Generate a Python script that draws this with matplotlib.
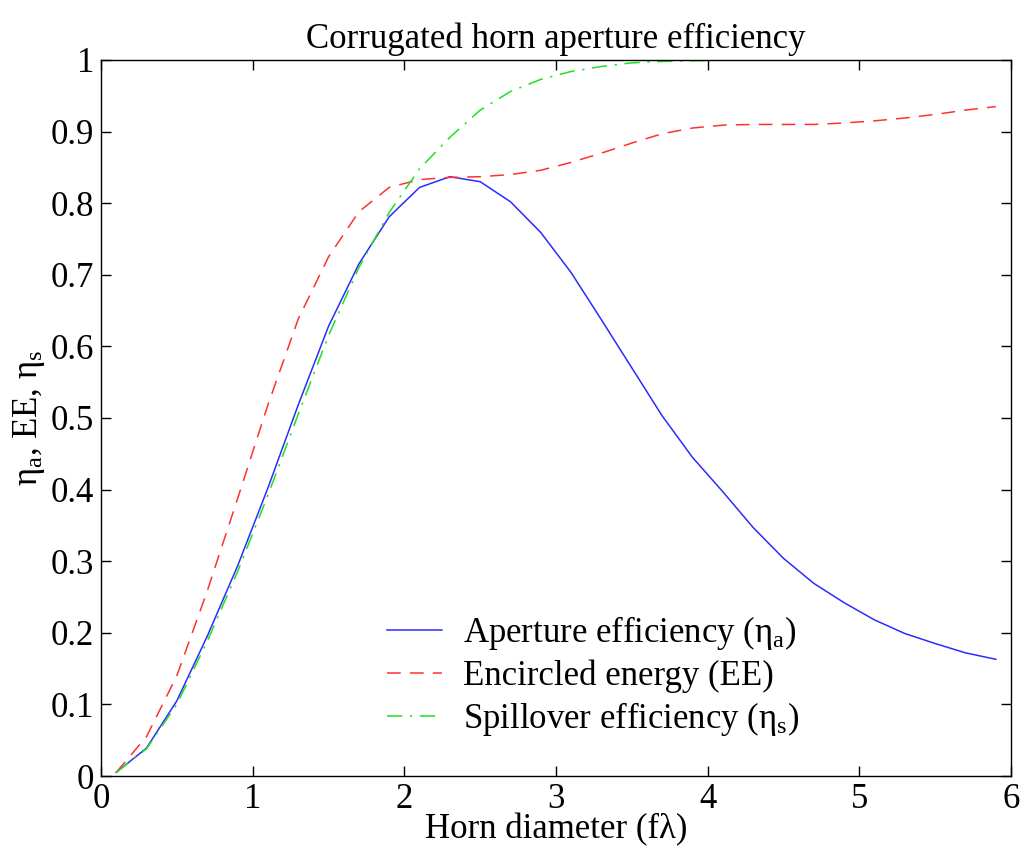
import numpy as np
import matplotlib
matplotlib.use('Agg')
import matplotlib.pyplot as plt

plt.rcParams['font.family'] = ['Liberation Serif', 'DejaVu Serif']
plt.rcParams['mathtext.fontset'] = 'custom'
plt.rcParams['mathtext.rm'] = 'Liberation Serif'
plt.rcParams['mathtext.it'] = 'Liberation Serif'

# horn diameter in units of f*lambda
diam = [0.1, 0.3, 0.5, 0.7, 0.9, 1.1, 1.3, 1.5, 1.7, 1.9,
        2.1, 2.3, 2.5, 2.7, 2.9, 3.1, 3.3, 3.5, 3.7, 3.9,
        4.1, 4.3, 4.5, 4.7, 4.9, 5.1, 5.3, 5.5, 5.7, 5.9]
aperture_eff = [0.005, 0.039, 0.105, 0.195, 0.293, 0.402, 0.518, 0.628, 0.715, 0.781,
                0.822, 0.837, 0.830, 0.802, 0.759, 0.703, 0.637, 0.570, 0.503, 0.445,
                0.397, 0.347, 0.304, 0.269, 0.242, 0.218, 0.199, 0.185, 0.172, 0.163]
encircled = [0.005, 0.055, 0.140, 0.258, 0.387, 0.518, 0.638, 0.725, 0.788, 0.822,
             0.833, 0.836, 0.837, 0.840, 0.846, 0.857, 0.870, 0.884, 0.897, 0.905,
             0.909, 0.910, 0.910, 0.910, 0.912, 0.915, 0.919, 0.924, 0.930, 0.935]
spillover = [0.005, 0.038, 0.100, 0.188, 0.285, 0.392, 0.505, 0.615, 0.710, 0.787,
             0.848, 0.892, 0.930, 0.956, 0.973, 0.984, 0.991, 0.996, 0.998, 0.999,
             1.0, 1.0, 1.0, 1.0, 1.0, 1.0, 1.0, 1.0, 1.0, 1.0]

fs = 25

fig = plt.figure(figsize=(10.34, 8.55), dpi=100)
ax = fig.add_axes([101/1034, 1 - 776/855, 910/1034, 716/855])

ax.plot(diam, aperture_eff, color='#2b2bff', lw=1.1, label=r'Aperture efficiency (η$_{\rm a}$)')
ax.plot(diam, encircled, color='#ff3030', lw=1.1, dashes=(9, 6), label='Encircled energy (EE)')
ax.plot(diam, spillover, color='#20e020', lw=1.1, dashes=(10, 5, 1.5, 5), label=r'Spillover efficiency (η$_{\rm s}$)')

ax.set_xlim(0, 6)
ax.set_ylim(0, 1)
ax.set_xticks(np.arange(0, 7, 1))
ax.set_yticks(np.arange(0, 1.01, 0.1))
ax.set_yticklabels(['0', '0.1', '0.2', '0.3', '0.4', '0.5', '0.6', '0.7', '0.8', '0.9', '1'])
ax.tick_params(direction='in', top=True, right=True, length=7, width=1, labelsize=fs, pad=5)
for s in ax.spines.values():
    s.set_linewidth(1)

ax.set_title('Corrugated horn aperture efficiency', fontsize=fs, pad=9)
ax.set_xlabel('Horn diameter (fλ)', fontsize=fs, labelpad=-2)
ax.set_ylabel(r'η$_{\rm a}$, EE, η$_{\rm s}$', fontsize=fs)
ax.yaxis.set_label_coords(-0.059, 0.5)

ax.legend(loc='upper left', bbox_to_anchor=(0.295, 0.25), frameon=False, fontsize=fs,
          handlelength=1.6, handletextpad=0.6, labelspacing=0.2, borderpad=0)

fig.savefig('out.png', dpi=100)
